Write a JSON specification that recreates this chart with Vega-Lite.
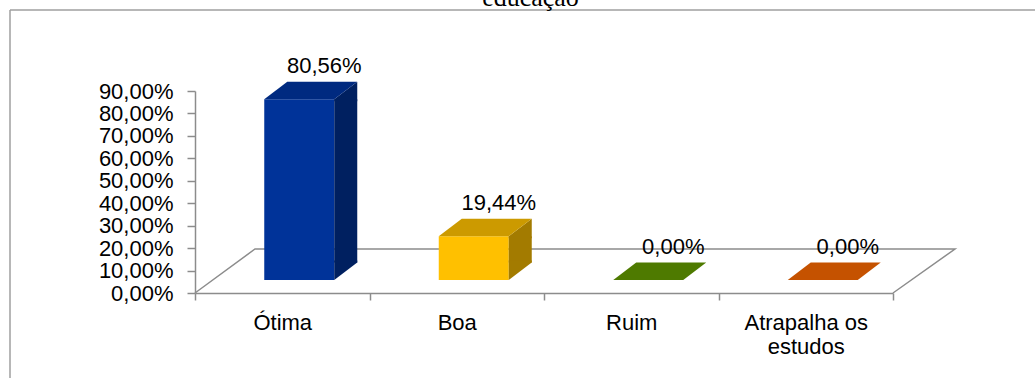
{
  "$schema": "https://vega.github.io/schema/vega-lite/v6.json",
  "width": 1025,
  "height": 368,
  "autosize": {"type": "none"},
  "padding": {"left": 10, "top": 10, "right": 0, "bottom": 0},
  "config": {
    "view": {"stroke": "#a0a0a0", "strokeWidth": 1.5, "strokeDash": [1025, 1393, 368, 0]},
    "font": "Liberation Sans",
    "locale": {"number": {"decimal": ",", "thousands": ".", "grouping": [3], "currency": ["R$", ""]}}
  },
  "title": {
    "text": "educação",
    "font": "Liberation Serif",
    "fontSize": 26,
    "fontWeight": "normal",
    "color": "black",
    "anchor": "middle",
    "frame": "group",
    "baseline": "alphabetic",
    "offset": 1,
    "dx": 8,
    "dy": 23
  },
  "data": {
    "values": [
      {"cat": "Ótima", "v": 0.8056},
      {"cat": "Boa", "v": 0.1944},
      {"cat": "Ruim", "v": 0},
      {"cat": "Atrapalha os estudos", "v": 0}
    ]
  },
  "encoding": {
    "x": {
      "field": "cat",
      "type": "nominal",
      "sort": null,
      "scale": {"range": [185, 883], "paddingInner": 0, "paddingOuter": 0},
      "axis": {
        "title": null,
        "labelAngle": 0,
        "tickBand": "extent",
        "tickSize": 7,
        "labelPadding": 12.5,
        "labelFontSize": 22,
        "labelFont": "Liberation Sans",
        "labelColor": "black",
        "labelBaseline": "top",
        "labelLineHeight": 24,
        "labelExpr": "datum.label == 'Atrapalha os estudos' ? ['Atrapalha os', 'estudos'] : datum.label",
        "domainColor": "#8c8c8c",
        "domainWidth": 1.5,
        "tickColor": "#8c8c8c",
        "tickWidth": 1.5,
        "offset": -85,
        "grid": false
      }
    },
    "y": {
      "field": "v",
      "type": "quantitative",
      "scale": {"domain": [0, 0.9], "range": [283, 81], "nice": false},
      "axis": {
        "title": null,
        "values": [0, 0.1, 0.2, 0.3, 0.4, 0.5, 0.6, 0.7, 0.8, 0.9],
        "format": ".2%",
        "tickSize": 8,
        "labelPadding": 14,
        "labelFontSize": 22,
        "labelFont": "Liberation Sans",
        "labelColor": "black",
        "labelOverlap": false,
        "domainColor": "#8c8c8c",
        "domainWidth": 1.5,
        "tickColor": "#8c8c8c",
        "tickWidth": 1.5,
        "offset": -185,
        "grid": false
      }
    }
  },
  "layer": [
    {
      "transform": [{"filter": "datum.cat == 'Ótima'"}],
      "mark": {"type": "point", "shape": "M-87.25,0L-27.25,-44L672.75,-44L610.75,0", "size": 4, "filled": false, "color": "#8c8c8c", "stroke": "#8c8c8c", "strokeWidth": 1.5, "opacity": 1},
      "encoding": {"y": {"datum": 0}}
    },
    {
      "transform": [{"filter": "datum.v > 0"}],
      "mark": {"type": "bar", "width": 70, "xOffset": 17, "yOffset": -13, "y2Offset": -13},
      "encoding": {
        "y2": {"datum": 0},
        "color": {"field": "cat", "type": "nominal", "scale": {"domain": ["Ótima", "Boa", "Ruim", "Atrapalha os estudos"], "range": ["#003399", "#FFC000", "#669900", "#FF6600"]}, "legend": null}
      }
    },
    {
      "transform": [{"filter": "datum.v > 0"}],
      "mark": {"type": "bar", "width": 23, "xOffset": 63.5, "yOffset": -13, "y2Offset": -30.5},
      "encoding": {
        "y2": {"datum": 0},
        "color": {"field": "cat", "type": "nominal", "scale": {"domain": ["Ótima", "Boa", "Ruim", "Atrapalha os estudos"], "range": ["#002060", "#A37B00", "#3D5E00", "#A34200"]}, "legend": null}
      }
    },
    {
      "transform": [{"filter": "datum.v > 0"}],
      "mark": {"type": "point", "shape": "M52,-13L75,-30.5L75,-11L52,-11Z", "size": 4, "filled": true, "opacity": 1, "strokeWidth": 0},
      "encoding": {
        "color": {"field": "cat", "type": "nominal", "scale": {"domain": ["Ótima", "Boa", "Ruim", "Atrapalha os estudos"], "range": ["#002060", "#A37B00", "#3D5E00", "#A34200"]}, "legend": null}
      }
    },
    {
      "transform": [{"filter": "datum.v > 0"}],
      "mark": {"type": "point", "shape": "M52,-32.5L75,-32.5L75,-30.5L52,-13Z", "size": 4, "filled": true, "opacity": 1, "strokeWidth": 0},
      "encoding": {
        "y": {"datum": 0},
        "color": {"field": "cat", "type": "nominal", "scale": {"domain": ["Ótima", "Boa", "Ruim", "Atrapalha os estudos"], "range": ["#002060", "#A37B00", "#3D5E00", "#A34200"]}, "legend": null}
      }
    },
    {
      "mark": {"type": "point", "shape": "M-18,-13L52,-13L75,-30.5L5,-30.5Z", "size": 4, "filled": true, "opacity": 1, "strokeWidth": 0},
      "encoding": {
        "color": {"field": "cat", "type": "nominal", "scale": {"domain": ["Ótima", "Boa", "Ruim", "Atrapalha os estudos"], "range": ["#002A80", "#CC9A00", "#4E7A00", "#C55200"]}, "legend": null}
      }
    },
    {
      "mark": {"type": "text", "dx": 42, "dy": -39, "baseline": "alphabetic", "align": "center", "fontSize": 22, "font": "Liberation Sans", "color": "black"},
      "encoding": {"text": {"field": "v", "type": "quantitative", "format": ".2%"}}
    }
  ],
  "resolve": {"scale": {"color": "independent"}}
}
